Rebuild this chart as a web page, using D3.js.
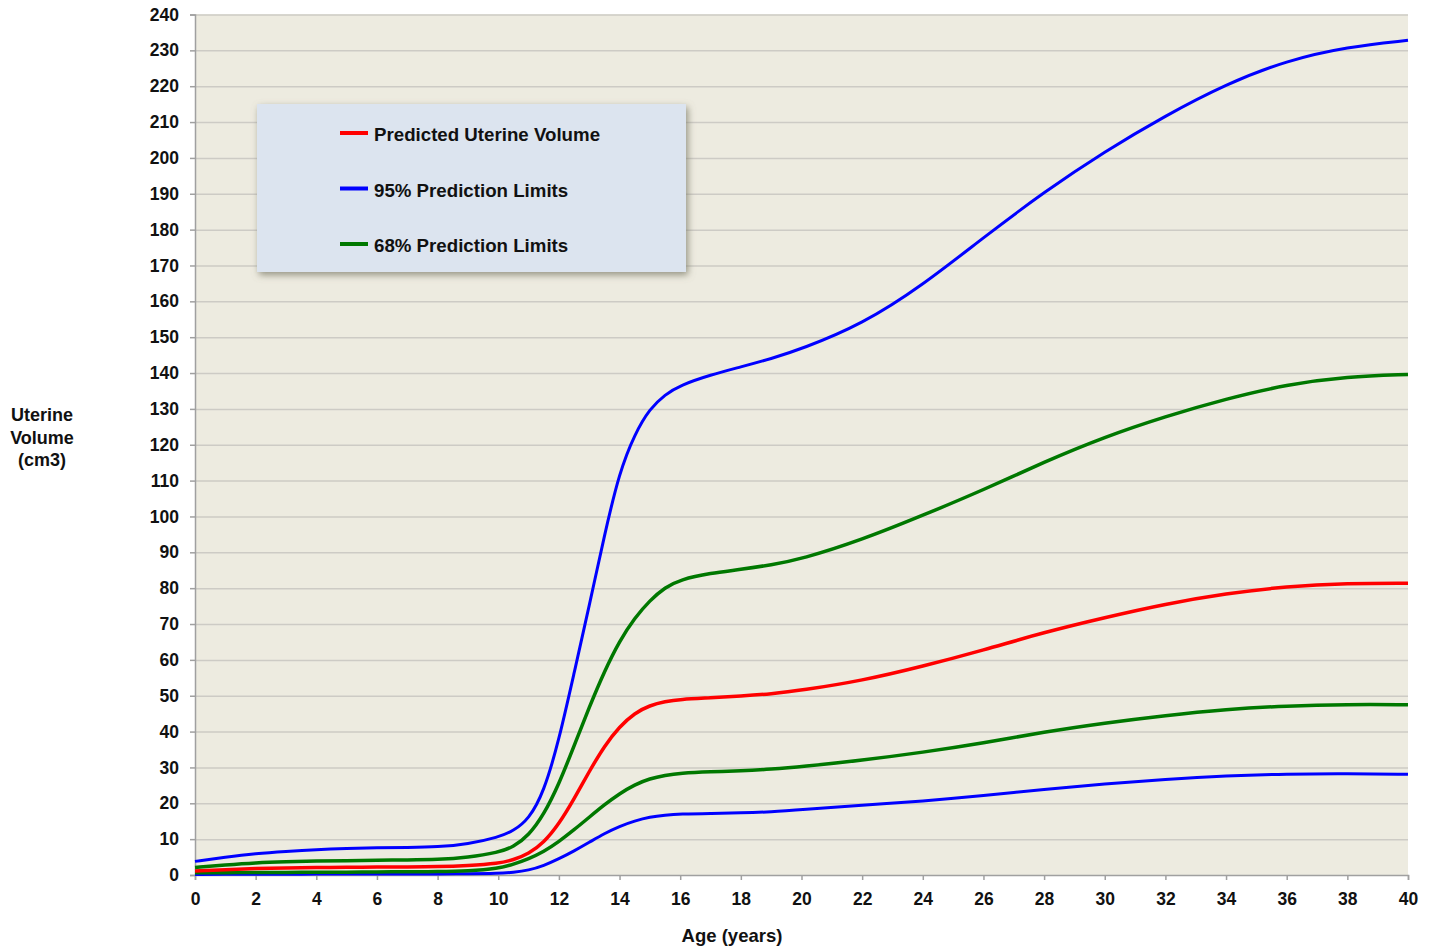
<!DOCTYPE html>
<html>
<head>
<meta charset="utf-8">
<script src="https://cdn.jsdelivr.net/npm/d3@7"></script>
<style>
  html, body { margin: 0; padding: 0; background: #ffffff; }
  svg { display: block; }
  text { font-family: "Liberation Sans", Arial, Helvetica, sans-serif; font-weight: bold; fill: #111; }
</style>
</head>
<body>
<script>
// ---------- data ----------
const ages = [0,1,2,3,4,5,6,7,8,9,10,10.5,11,11.5,12,12.5,13,13.5,14,14.5,15,15.5,16,17,18,19,20,22,24,26,28,30,32,34,36,38,40];

const upper95 = [3.8,5.0,6.0,6.6,7.1,7.4,7.6,7.7,7.8,8.6,10.5,12.3,15.5,23.0,37.5,56.3,75.0,94.8,112.5,123.0,130.1,134.0,136.6,139.5,141.7,144.0,146.7,153.6,164.5,177.8,190.5,201.8,211.8,220.6,227.2,231.0,232.8];
const upper68 = [2.1,2.8,3.4,3.7,3.9,4.0,4.1,4.2,4.3,4.9,6.3,7.8,11.0,16.8,25.3,36.0,46.8,56.8,65.3,71.7,76.6,80.2,82.4,84.2,85.2,86.5,88.1,93.5,100.3,107.4,115.2,122.2,127.9,132.8,136.8,139.0,139.6];
const predicted = [1.1,1.5,1.8,2.0,2.1,2.15,2.2,2.25,2.3,2.6,3.2,4.2,5.9,9.0,14.2,21.2,28.9,36.0,41.4,45.2,47.3,48.4,49.0,49.4,49.9,50.5,51.5,54.2,58.2,62.7,67.7,71.8,75.6,78.5,80.5,81.4,81.4];
const lower68 = [0.6,0.65,0.7,0.72,0.75,0.8,0.85,0.9,0.95,1.1,1.8,3.0,4.5,6.5,9.3,12.6,16.1,19.6,22.7,25.2,26.9,27.8,28.4,28.8,29.0,29.5,30.2,32.0,34.2,36.8,39.9,42.4,44.5,46.2,47.2,47.6,47.5];
const lower95 = [0.15,0.18,0.2,0.22,0.25,0.27,0.3,0.3,0.3,0.35,0.45,0.75,1.3,2.6,4.5,6.7,9.1,11.6,13.6,15.1,16.2,16.7,17.0,17.2,17.3,17.6,18.2,19.5,20.6,22.1,23.9,25.4,26.7,27.7,28.2,28.3,28.1];

const xTicks = [0,2,4,6,8,10,12,14,16,18,20,22,24,26,28,30,32,34,36,38,40];
const yTicks = [0,10,20,30,40,50,60,70,80,90,100,110,120,130,140,150,160,170,180,190,200,210,220,230,240];

const legendLabels = ["Predicted Uterine Volume", "95% Prediction Limits", "68% Prediction Limits"];
const legendColors = ["#ff0000", "#0000ff", "#007800"];

const xTitle = "Age (years)";
const yTitleLines = ["Uterine", "Volume", "(cm3)"];

// ---------- layout ----------
const W = 1434, H = 947;
const pL = 195, pR = 1408, pT = 14.5, pB = 875;

const svg = d3.select("body").append("svg").attr("width", W).attr("height", H);

const defs = svg.append("defs");
const f = defs.append("filter").attr("id", "shadow").attr("x", "-10%").attr("y", "-15%").attr("width", "125%").attr("height", "140%");
f.append("feDropShadow").attr("dx", 2).attr("dy", 3).attr("stdDeviation", 3.5).attr("flood-color", "#7f7d6c").attr("flood-opacity", 0.8);

const x = d3.scaleLinear().domain([0, 40]).range([pL, pR]);
const y = d3.scaleLinear().domain([0, 240]).range([pB, pT]);

// plot background
svg.append("rect").attr("x", pL).attr("y", pT).attr("width", pR - pL).attr("height", pB - pT).attr("fill", "#edebe0");

// gridlines
const grid = svg.append("g").attr("transform", `translate(${pL},0)`)
  .call(d3.axisLeft(y).tickValues(yTicks.filter(v => v > 0)).tickSize(-(pR - pL)).tickFormat(""));
grid.select(".domain").remove();
grid.selectAll("line").attr("stroke", "#cdcbc5").attr("stroke-width", 1.5);

// y axis
const yAxis = svg.append("g").attr("transform", `translate(${pL},0)`)
  .call(d3.axisLeft(y).tickValues(yTicks).tickSize(5).tickPadding(11));
yAxis.select(".domain").attr("stroke", "#a0a0a0").attr("stroke-width", 1.5);
yAxis.selectAll("line").attr("stroke", "#a0a0a0").attr("stroke-width", 1.5);
yAxis.selectAll("text").attr("font-size", 17.5).attr("font-family", "Liberation Sans, Arial, sans-serif").attr("font-weight", "bold").attr("fill", "#111");

// x axis
const xAxis = svg.append("g").attr("transform", `translate(0,${pB})`)
  .call(d3.axisBottom(x).tickValues(xTicks).tickSize(5).tickPadding(13));
xAxis.select(".domain").attr("stroke", "#a0a0a0").attr("stroke-width", 1.5);
xAxis.selectAll("line").attr("stroke", "#a0a0a0").attr("stroke-width", 1.5);
xAxis.selectAll("text").attr("font-size", 17.5).attr("font-family", "Liberation Sans, Arial, sans-serif").attr("font-weight", "bold").attr("fill", "#111");

// axis titles
svg.append("text").attr("x", 732).attr("y", 942).attr("text-anchor", "middle").attr("font-size", 18.5).text(xTitle);
const yt = svg.append("text").attr("x", 42).attr("y", 421).attr("text-anchor", "middle").attr("font-size", 18);
yTitleLines.forEach((t, i) => yt.append("tspan").attr("x", 42).attr("dy", i === 0 ? 0 : 22.5).text(t));

// lines
const series = [
  { vals: lower95, color: "#0000ff", w: 3 },
  { vals: lower68, color: "#007800", w: 3.5 },
  { vals: predicted, color: "#ff0000", w: 3.5 },
  { vals: upper68, color: "#007800", w: 3.5 },
  { vals: upper95, color: "#0000ff", w: 3 }
];
const line = d3.line().x((d, i) => x(ages[i])).y(d => y(d)).curve(d3.curveBasis);
svg.append("g").selectAll("path").data(series).join("path")
  .attr("d", d => line(d.vals))
  .attr("fill", "none")
  .attr("stroke", d => d.color)
  .attr("stroke-width", d => d.w)
  .attr("stroke-linejoin", "round");

// legend
const lg = svg.append("g");
lg.append("rect").attr("x", 257).attr("y", 104).attr("width", 429).attr("height", 168)
  .attr("fill", "#dce4ef").attr("filter", "url(#shadow)");
legendLabels.forEach((lab, i) => {
  const cy = 133 + i * 55.5;
  lg.append("line").attr("x1", 340).attr("x2", 368).attr("y1", cy).attr("y2", cy)
    .attr("stroke", legendColors[i]).attr("stroke-width", 4);
  lg.append("text").attr("x", 374).attr("y", cy + 8).attr("font-size", 18.7).text(lab);
});
</script>
</body>
</html>
